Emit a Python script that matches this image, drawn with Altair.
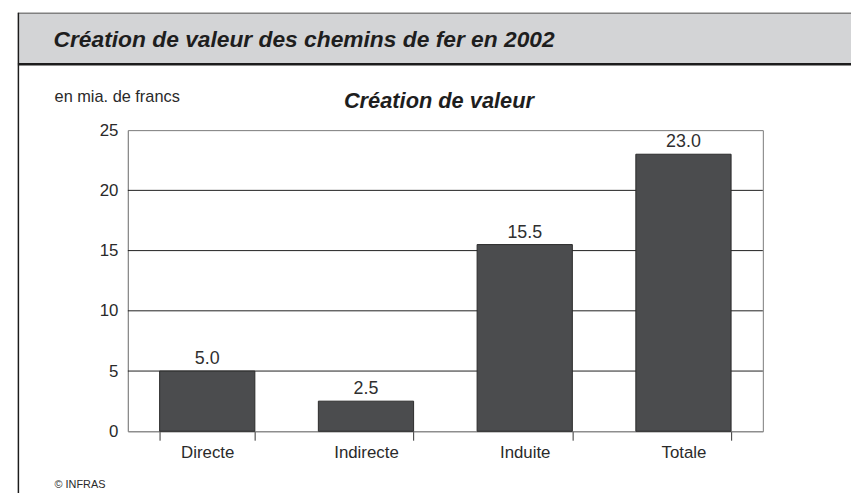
import altair as alt
import pandas as pd

# ---- data ----
categories = ["Directe", "Indirecte", "Induite", "Totale"]
values = [5.0, 2.5, 15.5, 23.0]
y_ticks = [0, 5, 10, 15, 20, 25]
grid_values = [5, 10, 15, 20]

title_text = "Création de valeur des chemins de fer en 2002"
subtitle_text = "Création de valeur"
unit_text = "en mia. de francs"
source_text = "© INFRAS"

df = pd.DataFrame({"cat": categories, "val": values})
grid_df = pd.DataFrame({"g": grid_values})
one = alt.Data(values=[{"k": 1}])

FONT = "Liberation Sans, Arial, sans-serif"
W, H = 641, 304

x_enc = alt.X(
    "cat:N", sort=categories,
    scale=alt.Scale(paddingInner=0.4, paddingOuter=0.2),
    axis=alt.Axis(title=None, labelAngle=0, tickBand="extent", ticks=True,
                  tickSize=9, tickColor="#333333", domainColor="#8a8a8a",
                  labelFontSize=17, labelPadding=4, labelColor="#2a2a2a",
                  labelFont=FONT, grid=False),
)
y_enc = alt.Y(
    "val:Q", scale=alt.Scale(domain=[0, 25], nice=False),
    axis=alt.Axis(values=y_ticks, title=None, ticks=False, domainColor="#8a8a8a",
                  grid=False, labelPadding=10, labelFontSize=17,
                  labelColor="#2a2a2a", labelFont=FONT),
)

grid = alt.Chart(grid_df).mark_rule(color="#1e1e1e", strokeWidth=1).encode(
    y=alt.Y("g:Q", scale=alt.Scale(domain=[0, 25], nice=False))
)

bars = alt.Chart(df).mark_bar(color="#4b4c4e", stroke="#2a2a2a", strokeWidth=1).encode(
    x=x_enc, y=y_enc
)
labels = alt.Chart(df).mark_text(
    dy=-12, fontSize=18, color="#2f2f2f", font=FONT
).encode(
    x=alt.X("cat:N", sort=categories), y=alt.Y("val:Q"),
    text=alt.Text("val:Q", format=".1f"),
)

# ---- frame decorations (plot-relative pixel positions) ----
header = alt.Chart(one).mark_rect(fill="#d3d4d6").encode(
    x=alt.value(-111), x2=alt.value(740), y=alt.value(-118), y2=alt.value(-67)
)
header_top = alt.Chart(one).mark_rule(color="#808080", strokeWidth=1.5).encode(
    x=alt.value(-111), x2=alt.value(740), y=alt.value(-118)
)
header_bottom = alt.Chart(one).mark_rule(color="#1c1c1c", strokeWidth=2.5).encode(
    x=alt.value(-111), x2=alt.value(740), y=alt.value(-66.5)
)
left_border = alt.Chart(one).mark_rule(color="#1c1c1c", strokeWidth=1.5).encode(
    x=alt.value(-110.5), y=alt.value(-118.5), y2=alt.value(400)
)

title = alt.Chart(one).mark_text(
    text=title_text, align="left", baseline="alphabetic", fontSize=23,
    fontWeight="bold", fontStyle="italic", color="#1e1e1e", font=FONT
).encode(x=alt.value(-75), y=alt.value(-84))

unit = alt.Chart(one).mark_text(
    text=unit_text, align="left", baseline="alphabetic", fontSize=16.5,
    color="#2a2a2a", font=FONT
).encode(x=alt.value(-74), y=alt.value(-28.5))

subtitle = alt.Chart(one).mark_text(
    text=subtitle_text, align="center", baseline="alphabetic", fontSize=22,
    fontWeight="bold", fontStyle="italic", color="#1e1e1e", font=FONT
).encode(x=alt.value(314), y=alt.value(-22))

source = alt.Chart(one).mark_text(
    text=source_text, align="left", baseline="alphabetic", fontSize=11,
    color="#2a2a2a", font=FONT
).encode(x=alt.value(-74), y=alt.value(361))

chart = alt.layer(
    header, header_top, header_bottom, left_border,
    title, unit, subtitle, source,
    grid, bars, labels,
).properties(
    width=W, height=H,
    autosize=alt.AutoSizeParams(type="none"),
    padding={"left": 121, "top": 121, "right": 851 - 121 - W, "bottom": 485 - 121 - H},
    background="white",
).configure_view(
    stroke="#7a7a7a", strokeWidth=1
)

chart.save("out.html", embed_options={"renderer": "svg", "actions": False})
